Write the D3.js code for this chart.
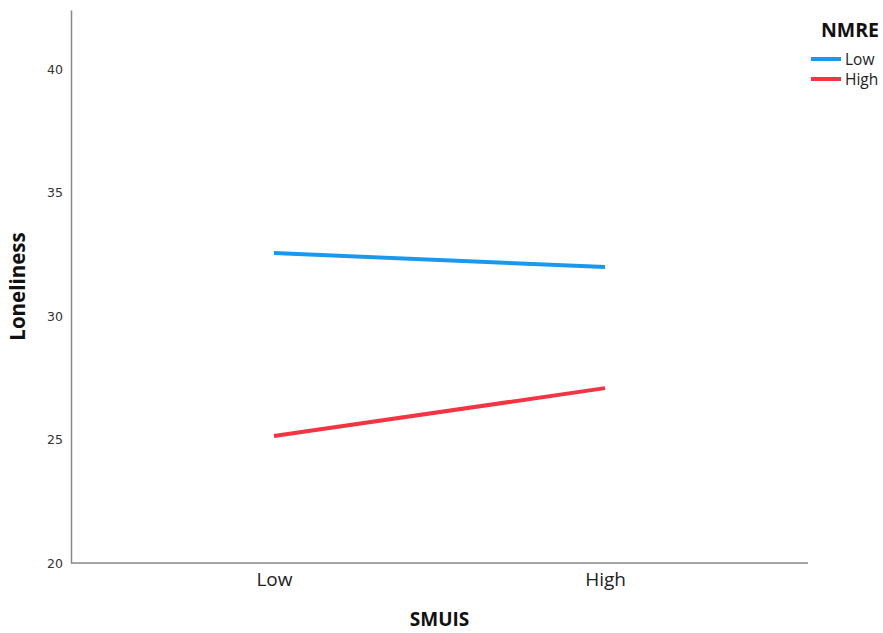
<!DOCTYPE html>
<html><head><meta charset="utf-8">
<script src="https://cdn.jsdelivr.net/npm/d3@7"></script>
<style>body{margin:0;background:#fff}svg{display:block}</style>
</head><body><svg id="c" width="883" height="633"></svg>
<script>
const categories = ["Low", "High"];
const seriesNames = ["Low", "High"];
const lowNMRE = [32.55, 31.98];
const highNMRE = [25.14, 27.08];
const yTicks = [20, 25, 30, 35, 40];
const colors = ["#1a98ee", "#f23543"];

(function () {
const svg = d3.select("#c");
const mL = 71, mR = 808, mT = 10, mB = 563;
const x = d3.scalePoint().domain(categories).range([mL, mR]).padding(0.613);
const y = d3.scaleLinear().domain([20, 42.39]).range([mB, mT]);
const font = "'Open Sans', 'DejaVu Sans', sans-serif";

// y axis
const ya = svg.append("g").attr("transform", `translate(${mL},0)`)
  .call(d3.axisLeft(y).tickValues(yTicks).tickSize(0).tickPadding(8));
ya.select(".domain").attr("stroke", "#888").attr("stroke-width", 1.5);
ya.selectAll("text").attr("font-family", "'DejaVu Sans', sans-serif").attr("font-size", 12.5).attr("fill", "#333");

// x axis
const xa = svg.append("g").attr("transform", `translate(0,${mB})`)
  .call(d3.axisBottom(x).tickSize(0).tickPadding(10));
xa.select(".domain").attr("stroke", "#888").attr("stroke-width", 1.5)
  .attr("d", `M${mL},0H${mR}`);
xa.selectAll("text").attr("font-family", font).attr("font-size", 19).attr("fill", "#222");

// axis titles
svg.append("text").attr("x", (mL + mR) / 2).attr("y", 626).attr("text-anchor", "middle")
  .attr("font-family", font).attr("font-weight", "bold").attr("font-size", 19).attr("fill", "#111").text("SMUIS");
svg.append("text").attr("transform", `translate(25,${(mT + mB) / 2}) rotate(-90)`).attr("text-anchor", "middle")
  .attr("font-family", font).attr("font-weight", "bold").attr("font-size", 20.5).attr("fill", "#111").text("Loneliness");

// lines
const line = d3.line().x((d, i) => x(categories[i])).y(d => y(d));
[lowNMRE, highNMRE].forEach((s, k) => {
  svg.append("path").datum(s).attr("d", line).attr("fill", "none")
    .attr("stroke", colors[k]).attr("stroke-width", 4);
});

// legend
svg.append("text").attr("x", 850).attr("y", 37).attr("text-anchor", "middle")
  .attr("font-family", font).attr("font-weight", "bold").attr("font-size", 19.5).attr("fill", "#111").text("NMRE");
seriesNames.forEach((n, k) => {
  const yy = 59 + k * 20;
  svg.append("line").attr("x1", 811).attr("x2", 841).attr("y1", yy).attr("y2", yy)
    .attr("stroke", colors[k]).attr("stroke-width", 4);
  svg.append("text").attr("x", 845).attr("y", yy + 5.5).attr("font-family", font)
    .attr("font-size", 15.5).attr("fill", "#222").text(n);
});
})();
</script></body></html>
